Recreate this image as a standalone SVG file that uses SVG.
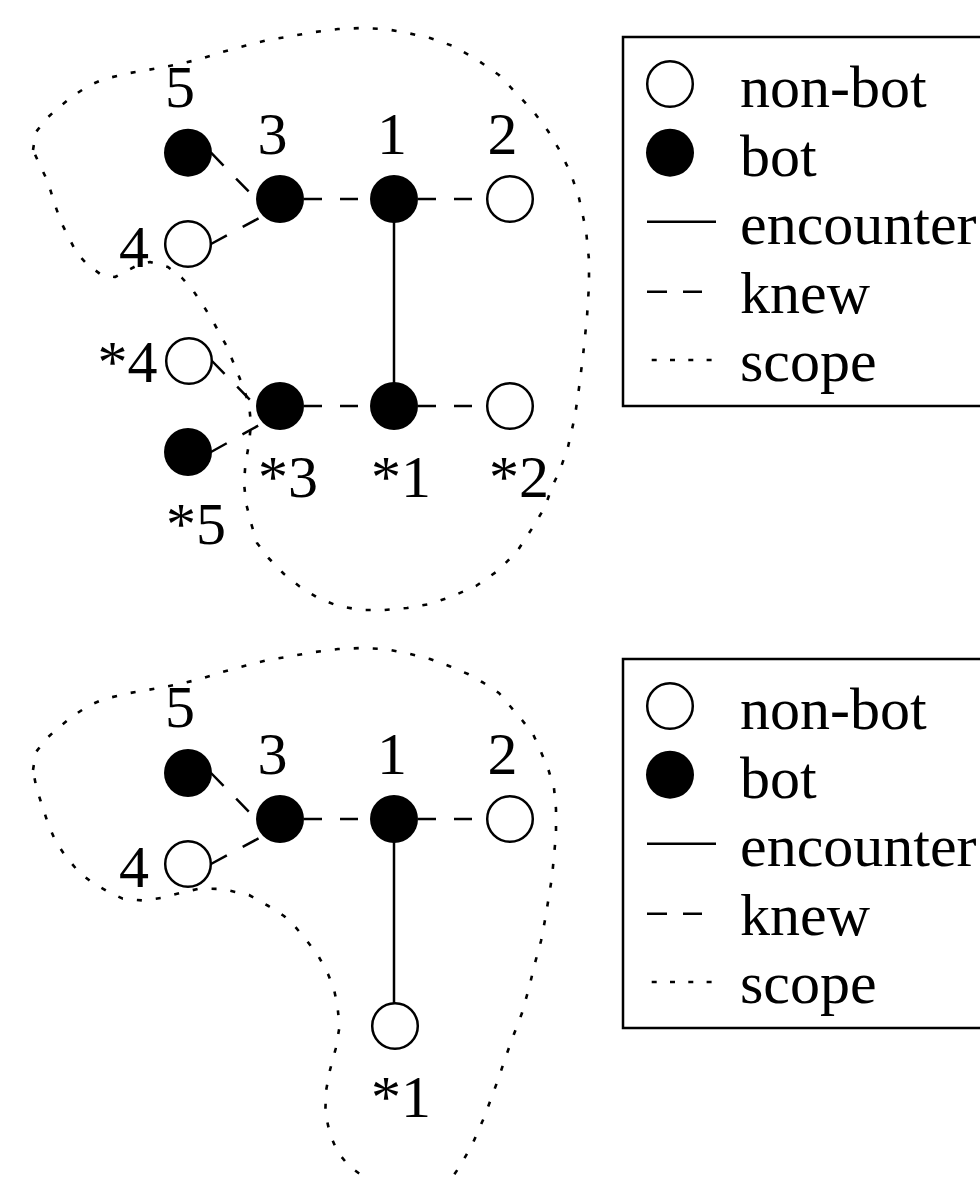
<svg xmlns="http://www.w3.org/2000/svg" width="980" height="1179" viewBox="0 0 980 1179">
<style>
text{font-family:"Liberation Serif","Times New Roman",serif;font-size:60px;fill:#000}
.lbl{text-anchor:middle}
.bot{fill:#000}
.non{fill:#fff;stroke:#000;stroke-width:2.5}
.enc{stroke:#000;stroke-width:2.5;fill:none}
.knew{stroke:#000;stroke-width:2.5;fill:none;stroke-dasharray:18 18}
.scope{stroke:#000;stroke-width:2.6;fill:none;stroke-dasharray:5 14;stroke-linejoin:round}
.box{fill:none;stroke:#000;stroke-width:2.5}
</style>
<rect width="980" height="1179" fill="#fff"/>

<!-- scope curves -->
<g id="scopes">
<path class="scope" d="M33,150 L36,132 L46,119 L58,108 L73,96 L88,86 L104,79 L130,73 L153,69 L180,64 L200,59 L222,52 L246,45.5 L268,40 L292,36 L315,32 L338,29 L362,28 L385,29 L403,32 L430,38 L453,46 L476,59 L499,75 L518,95 L533,111 L548,131 L560,151 L571,174 L579,198 L586,230 L589,260 L589,285 L587,317 L583,356 L579,388 L575,416 L568,447 L560,470 L552,487 L545,507 L533,527 L518,550 L499,570 L476,586 L453,596 L430,604 L407,608 L384,610 L361,610 L338,606 L318,598 L299,586 L284,574 L268.5,558 L257,543 L251,523 L246,503 L244,483 L245.5,463 L249,444 L251,424 L249,404 L242,384 L234,364 L226,345 L215,325 L203,305 L192,289 L182,278 L168,267 L150,262 L136,266 L115,277 L101.6,275 L88,265 L77,253.5 L69,238 L61,222 L54,202 L48,182 L38.4,162 Z"/>
<path class="scope" d="M33,770 L36,752 L46,739 L58,728 L73,716 L88,706 L104,699 L130,693 L153,689 L180,684 L200,679 L222,672 L246,665.5 L268,660 L292,656 L315,652 L338,649 L362,648 L385,649 L410,654 L430,659 L449,666 L468,674 L483,682.5 L499,693 L510,706 L522,720 L533,734 L541,752 L548.5,770 L554,788 L556,809 L556,834 L554,856 L552,877 L548.5,899 L545,920 L541,941 L535,963 L529,988 L522,1013 L514,1034 L506,1056 L499,1077 L491,1099 L483,1120 L472,1145 L460,1166 L445,1188 L415,1196 L385,1190 L364,1177 L349,1166 L337.5,1152 L330,1134 L325.3,1113 L326,1091 L330,1070 L335.6,1049 L339.5,1027 L337.5,1006 L333.7,988 L328,974 L318.4,956 L307,941 L295.4,927 L284,916 L268.5,906 L249,895 L222,889 L199.5,888.6 L180,893 L161,898 L142,900.4 L122.7,898.6 L107.4,891.4 L92,882.5 L78.6,871.8 L65.2,855.7 L55.6,841.4 L48,823.6 L42.2,805.7 L36.4,788 Z"/>
</g>

<!-- connectors -->
<g id="connectors">
<line class="knew" x1="211" y1="152.7" x2="256" y2="199"/>
<line class="knew" x1="211" y1="244" x2="263" y2="216"/>
<line class="knew" x1="304" y1="199" x2="370" y2="199"/>
<line class="knew" x1="418" y1="199" x2="486" y2="199"/>
<line class="enc" x1="394" y1="222" x2="394" y2="383"/>
<line class="knew" x1="212" y1="361" x2="256" y2="406"/>
<line class="knew" x1="211" y1="452" x2="263" y2="423"/>
<line class="knew" x1="304" y1="406" x2="370" y2="406"/>
<line class="knew" x1="418" y1="406" x2="486" y2="406"/>

<line class="knew" x1="211" y1="773" x2="256" y2="819"/>
<line class="knew" x1="211" y1="864" x2="263" y2="836"/>
<line class="knew" x1="304" y1="819" x2="370" y2="819"/>
<line class="knew" x1="418" y1="819" x2="486" y2="819"/>
<line class="enc" x1="394" y1="842" x2="394" y2="1003"/>
</g>

<!-- top diagram nodes -->
<g id="t5"><circle class="bot" cx="188" cy="152.7" r="24"/><text class="lbl" x="180" y="106.5">5</text></g>
<g id="t3"><circle class="bot" cx="280" cy="199" r="24"/><text class="lbl" x="272.5" y="154">3</text></g>
<g id="t1"><circle class="bot" cx="394" cy="199" r="24"/><text class="lbl" x="392" y="154">1</text></g>
<g id="t2"><circle class="non" cx="510" cy="199" r="22.8"/><text class="lbl" x="502.5" y="154">2</text></g>
<g id="t4"><circle class="non" cx="188" cy="244" r="22.8"/><text class="lbl" x="134" y="267">4</text></g>
<g id="ts4"><circle class="non" cx="189" cy="361" r="22.8"/><text class="lbl" x="127.5" y="382">*4</text></g>
<g id="ts3"><circle class="bot" cx="280" cy="406" r="24"/><text class="lbl" x="288" y="497">*3</text></g>
<g id="ts1"><circle class="bot" cx="394" cy="406" r="24"/><text class="lbl" x="401" y="497">*1</text></g>
<g id="ts2"><circle class="non" cx="510" cy="406" r="22.8"/><text class="lbl" x="519" y="497">*2</text></g>
<g id="ts5"><circle class="bot" cx="188" cy="452" r="24"/><text class="lbl" x="196" y="543.5">*5</text></g>

<!-- bottom diagram nodes -->
<g id="b5"><circle class="bot" cx="188" cy="773" r="24"/><text class="lbl" x="180" y="726.5">5</text></g>
<g id="b3"><circle class="bot" cx="280" cy="819" r="24"/><text class="lbl" x="272.5" y="774">3</text></g>
<g id="b1"><circle class="bot" cx="394" cy="819" r="24"/><text class="lbl" x="392" y="774">1</text></g>
<g id="b2"><circle class="non" cx="510" cy="819" r="22.8"/><text class="lbl" x="502.5" y="774">2</text></g>
<g id="b4"><circle class="non" cx="188" cy="864" r="22.8"/><text class="lbl" x="134" y="887">4</text></g>
<g id="bs1"><circle class="non" cx="395" cy="1026" r="22.8"/><text class="lbl" x="401" y="1117">*1</text></g>

<!-- legends -->
<g id="legend1">
<rect class="box" x="623" y="37" width="400" height="369"/>
<circle class="non" cx="670" cy="84" r="22.8"/>
<text x="740" y="107">non-bot</text>
<circle class="bot" cx="670" cy="152.7" r="24"/>
<text x="740" y="175.5">bot</text>
<line class="enc" x1="647" y1="221.7" x2="716" y2="221.7"/>
<text x="740" y="244">encounter</text>
<line class="knew" x1="647" y1="291.7" x2="702" y2="291.7" style="stroke-dasharray:20 16"/>
<text x="740" y="312.5">knew</text>
<line class="scope" x1="651.7" y1="360" x2="712" y2="360" style="stroke-dasharray:5 13.3"/>
<text x="740" y="381">scope</text>
</g>
<g id="legend2">
<rect class="box" x="623" y="659" width="400" height="369"/>
<circle class="non" cx="670" cy="706" r="22.8"/>
<text x="740" y="729">non-bot</text>
<circle class="bot" cx="670" cy="774.7" r="24"/>
<text x="740" y="797.5">bot</text>
<line class="enc" x1="647" y1="843.7" x2="716" y2="843.7"/>
<text x="740" y="866">encounter</text>
<line class="knew" x1="647" y1="913.7" x2="702" y2="913.7" style="stroke-dasharray:20 16"/>
<text x="740" y="934.5">knew</text>
<line class="scope" x1="651.7" y1="982" x2="712" y2="982" style="stroke-dasharray:5 13.3"/>
<text x="740" y="1003">scope</text>
</g>
</svg>
